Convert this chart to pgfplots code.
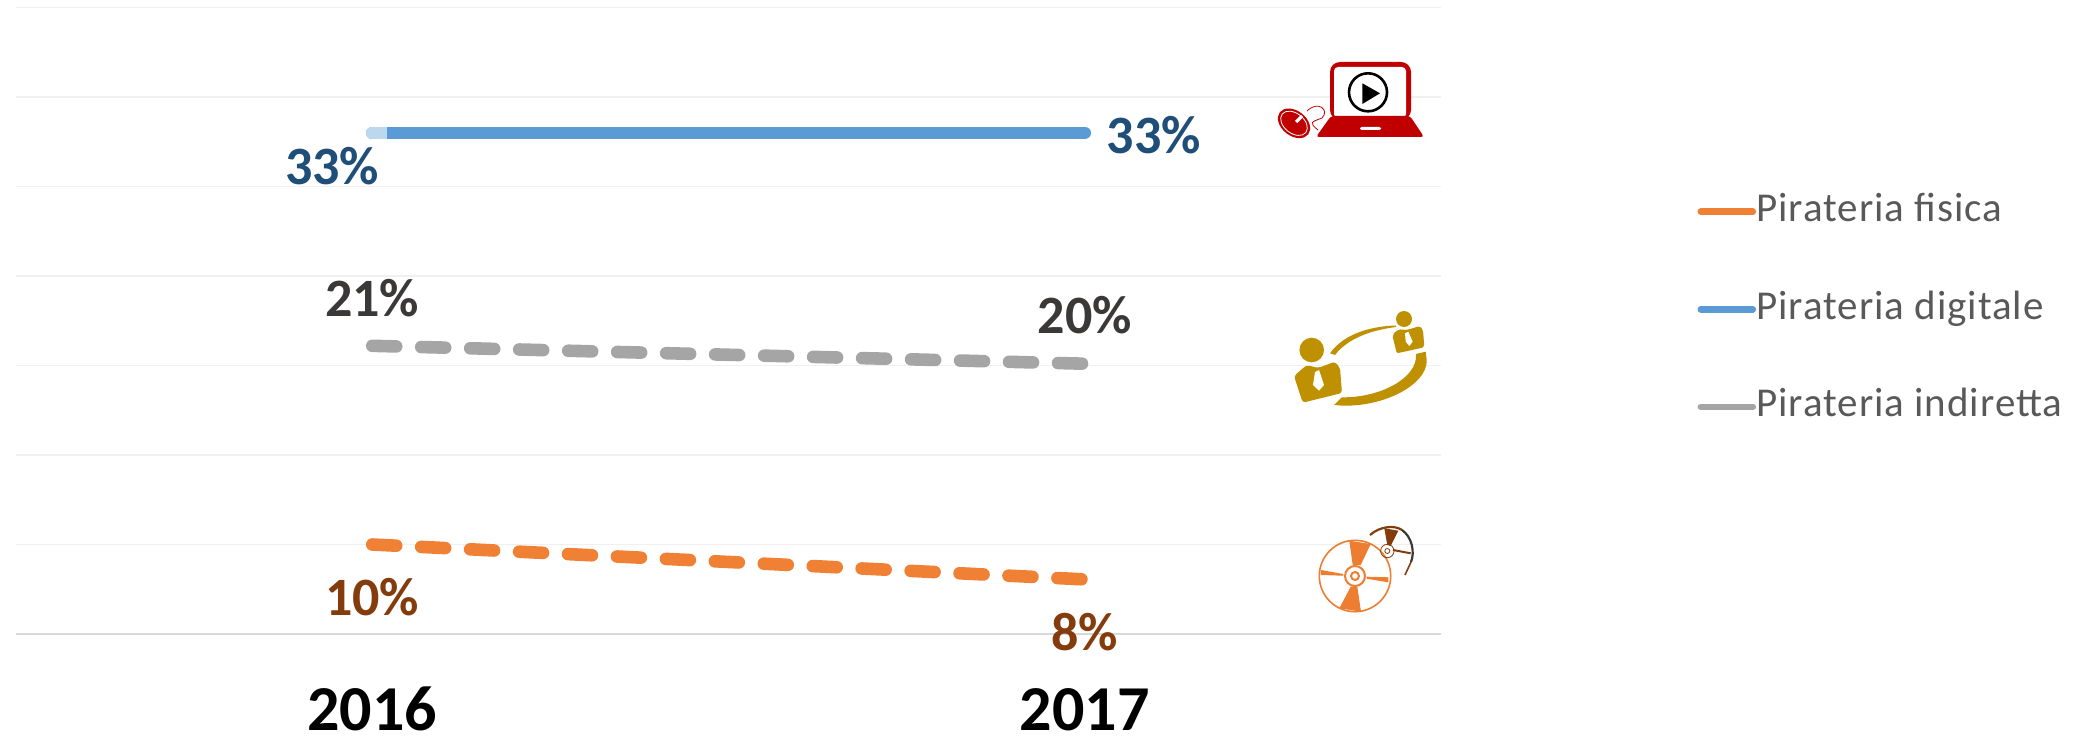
\documentclass[border=0pt]{standalone}
\usepackage{pgfplots}
\pgfplotsset{compat=1.18}
\usepackage{fontspec}
\setmainfont{Carlito}
\newfontfamily\legfont[LetterSpace=2.4]{Carlito}
\definecolor{orangeL}{HTML}{F08033}
\definecolor{blueL}{HTML}{5B9BD5}
\definecolor{blueLight}{HTML}{BDD7EE}
\definecolor{grayL}{HTML}{A5A5A5}
\definecolor{blueT}{HTML}{1F4E79}
\definecolor{brownT}{HTML}{843C0C}
\definecolor{darkT}{HTML}{3B3838}
\definecolor{legT}{HTML}{595959}
\definecolor{gridL}{HTML}{F0F0F0}
\definecolor{baseL}{HTML}{D9D9D9}
\definecolor{iconRed}{HTML}{C00000}
\definecolor{iconGold}{HTML}{BF9000}
\definecolor{iconOr}{HTML}{ED7D31}
\tikzset{lab/.style={font=\fontsize{27}{27}\selectfont\bfseries, inner sep=0pt}}
\begin{document}
\begin{tikzpicture}
\path[use as bounding box] (0,0) rectangle (1038.5pt,-369pt);
\begin{axis}[
  at={(8pt,-317pt)}, anchor=south west,
  scale only axis, width=712.5pt, height=313.25pt,
  xmin=-0.5, xmax=1.5, ymin=0, ymax=35,
  axis x line*=bottom, axis y line*=left,
  y axis line style={draw=none},
  x axis line style={draw=baseL, line width=1.2pt, -},
  xtick={0,1}, xticklabels={2016,2017},
  ytick={0,5,...,35}, yticklabels={},
  major tick length=0pt,
  ymajorgrids, grid style={draw=gridL, line width=0.7pt},
  xticklabel style={font=\fontsize{32}{32}\selectfont\bfseries, text=black, inner sep=0pt, text height=21pt, text depth=0pt, anchor=base, yshift=-48pt},
  clip=false,
  legend style={at={(1.18,0.706)}, anchor=north west, draw=none, fill=none,
    font=\fontsize{20.5}{24}\selectfont\legfont, text=legT, inner sep=0pt, outer sep=0pt,
    row sep=28.8pt, nodes={text height=15pt, text depth=5pt, inner sep=0pt, inner xsep=0pt}},
  legend cell align=left,
  legend image code/.code={\draw[#1,solid,line width=3.3pt,line cap=round] (0pt,0pt) -- (26pt,0pt);},
  every axis plot/.append style={line cap=round},
]
\addplot[orangeL, line width=6.3pt, dash pattern=on 12pt off 12.5pt] coordinates {(0,5.0) (1,3.05)}
  node[pos=0, lab, text=brownT, xshift=0pt, yshift=-26.5pt] {10\%}
  node[pos=1, lab, text=brownT, xshift=0pt, yshift=-26.5pt] {8\%};
\addlegendentry{Pirateria fisica}
\addplot[blueL, line width=6.3pt] coordinates {(0,28) (1,28)}
  node[pos=0, lab, text=blueT, xshift=-20pt, yshift=-16.5pt] {33\%}
  node[pos=1, lab, text=blueT, xshift=34.5pt, yshift=-1pt] {33\%};
\addlegendentry{Pirateria digitale}
\addplot[grayL, line width=6.3pt, dash pattern=on 12pt off 12.5pt] coordinates {(0,16.1) (1,15.1)}
  node[pos=0, lab, text=darkT, xshift=0pt, yshift=24pt] {21\%}
  node[pos=1, lab, text=darkT, xshift=0pt, yshift=24.5pt] {20\%};
\addlegendentry{Pirateria indiretta}
\addplot[forget plot, blueLight, line width=6.3pt, line cap=butt] coordinates {(0,28) (0.02,28)};
\addplot[forget plot, blueLight, line width=6.3pt, line cap=round] coordinates {(0,28) (0.005,28)};
\end{axis}
\begin{scope}[x=0.5pt,y=-0.5pt]
% laptop
\fill[iconRed, rounded corners=5pt] (1330,120) -- (1330,62) -- (1411,62) -- (1411,120) -- cycle;
\fill[white, rounded corners=2pt] (1334,118) -- (1334,67) -- (1406,67) -- (1406,118) -- cycle;
\fill[iconRed, rounded corners=1.5pt] (1331,116) -- (1410,116) -- (1424,137) -- (1316,137) -- cycle;
\fill[white, rounded corners=1pt] (1360,127) rectangle (1381,130);
\draw[black, line width=1.3pt] (1368,92.3) circle (19);
\fill[black] (1362.3,83.3) -- (1380,93.3) -- (1362.3,104) -- cycle;
% mouse
\fill[iconRed, rotate around={-38:(1294,123.3)}] (1294,123.3) ellipse (18 and 12.5);
\draw[white, line width=0.4pt, rotate around={-38:(1294,123.3)}] (1294,123.3) ellipse (15 and 10);
\draw[white, line width=1.6pt] (1296,122) -- (1302,116);
\draw[iconRed, line width=0.4pt] (1307,111) .. controls (1318,100) and (1330,110) .. (1322,118) .. controls (1312,122) and (1308,122) .. (1318,130);
% people
\fill[iconGold] (1311.7,350) circle (12.3);
\fill[iconGold, rounded corners=1.5pt] (1294,376) -- (1306.7,365) -- (1318,368) -- (1335,361.7) -- (1340,368) -- (1342,393) -- (1302.7,402.7) -- cycle;
\fill[white] (1315,372) -- (1319,370) -- (1324,385) -- (1319,390.7) -- (1313,385) -- cycle;
\fill[iconGold] (1404,319) circle (8);
\fill[iconGold, rounded corners=1pt] (1392.3,335) -- (1398.3,329.3) -- (1406.7,330) -- (1420,326) -- (1423,330) -- (1424.3,347.3) -- (1396.7,353.3) -- cycle;
\fill[white] (1405,333.3) -- (1408.3,331.7) -- (1412.7,341.7) -- (1409.3,346) -- (1405.7,341.7) -- cycle;
\fill[iconGold] (1330,353.3) .. controls (1345,332) and (1375,326) .. (1396,325.5) -- (1396,327) .. controls (1372,330) and (1348,338) .. (1335,355) -- cycle;
\fill[iconGold] (1334,405) .. controls (1380,410) and (1428,385) .. (1426.7,360) -- (1425.7,351.7) -- (1416,354) .. controls (1418,378) and (1380,398) .. (1341.7,397.3) -- cycle;
% discs
\draw[iconOr, line width=0.8pt] (1355,576) circle (35.7);
\draw[iconOr, line width=1pt] (1355,576) circle (10);
\draw[iconOr, line width=1pt] (1355,576) circle (4);
\fill[iconOr] (1349.3,540.7) -- (1370.7,544) -- (1360.7,565) -- (1352.7,565) -- cycle;
\fill[iconOr] (1339.3,608.3) -- (1361,611.7) -- (1357.3,586.7) -- (1350.7,586.7) -- cycle;
\fill[iconOr] (1321,570) -- (1343.3,574) -- (1343.3,575.7) -- (1320.7,575) -- cycle;
\fill[iconOr] (1366.7,576.7) -- (1388.3,577.3) -- (1388.3,582.3) -- (1366.7,578.7) -- cycle;
\draw[brownT, line width=1.1pt] (1370,535) .. controls (1380,526) and (1395,525) .. (1402,530);
\draw[darkT, line width=1.1pt] (1402,530) .. controls (1412,537) and (1415,552) .. (1411,562);
\draw[brownT, line width=0.8pt] (1411,562) -- (1405,575);
\fill[brownT] (1384.3,528.3) -- (1398.3,530.7) -- (1390.7,546) -- (1387.3,545) -- cycle;
\draw[brownT, line width=1pt] (1393,550) -- (1410.7,553.3);
\draw[brownT, line width=0.4pt] (1387.3,551) circle (6.7);
\draw[brownT, line width=0.4pt] (1387.3,551) circle (2.5);
\end{scope}
\end{tikzpicture}
\end{document}
